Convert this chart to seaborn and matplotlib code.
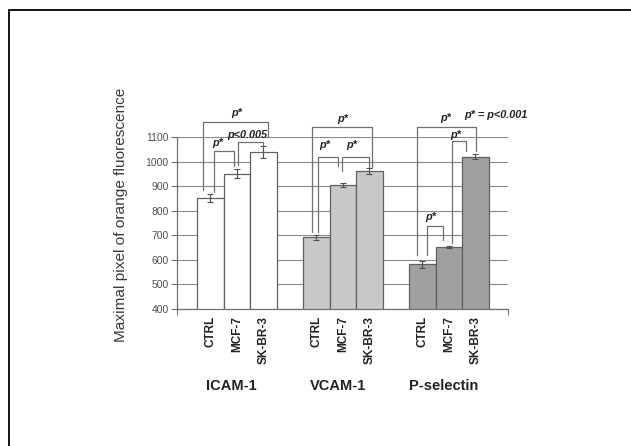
import numpy as np
import matplotlib
matplotlib.use('Agg')
import matplotlib.pyplot as plt
import matplotlib.transforms as mtransforms
from matplotlib.lines import Line2D
import pandas as pd
import seaborn as sns

molecules = ['ICAM-1', 'VCAM-1', 'P-selectin']
cells = ['CTRL', 'MCF-7', 'SK-BR-3']

icam_means = [853, 951, 1040]
icam_err = [17, 19, 24]
vcam_means = [692, 907, 963]
vcam_err = [10, 8, 11]
psel_means = [582, 652, 1020]
psel_err = [14, 6, 10]

bar_colors = ['#ffffff', '#c8c8c8', '#a0a0a0']

# significance brackets: x left, x right, top, left leg end, right leg end
brackets = [
    (-0.32, 0.29, 1163, 884, 1101),
    (-0.217, -0.028, 1045, 877, 982),
    (0.01, 0.25, 1080, 987, 1064),
    (0.712, 1.274, 1143, 714, 976),
    (0.761, 0.950, 1020, 714, 982),
    (0.988, 1.245, 1020, 963, 978),
    (1.698, 2.255, 1142, 619, 1044),
    (2.024, 2.160, 1084, 668, 1044),
    (1.792, 1.943, 739, 619, 680),
]
sig_labels = [
    (0.0, 1199, 'p*'),
    (-0.18, 1076, 'p*'),
    (0.10, 1109, 'p<0.005'),
    (1.0, 1175, 'p*'),
    (0.83, 1068, 'p*'),
    (1.08, 1068, 'p*'),
    (1.97, 1178, 'p*'),
    (2.06, 1109, 'p*'),
    (1.83, 774, 'p*'),
    (2.44, 1190, 'p* = p<0.001'),
]

means = [icam_means, vcam_means, psel_means]
errs = [icam_err, vcam_err, psel_err]
df = pd.DataFrame({
    'molecule': np.repeat(molecules, 3),
    'cell': cells * 3,
    'value': np.concatenate(means),
    'err': np.concatenate(errs),
})

sns.set_style('white')
plt.rcParams['font.family'] = ['Liberation Sans', 'DejaVu Sans']

fig = plt.figure(figsize=(6.31, 4.46), dpi=100)
ax = fig.add_axes([177 / 631, 1 - 308.7 / 446, 331 / 631, 171.4 / 446])

sns.barplot(data=df, x='molecule', y='value', hue='cell', order=molecules,
            hue_order=cells, width=0.75, errorbar=None, legend=False,
            edgecolor='#606060', linewidth=0.9, ax=ax, zorder=2)

centers = []
for i, cont in enumerate(ax.containers):
    for j, bar in enumerate(cont):
        bar.set_facecolor(bar_colors[j])
        xc = bar.get_x() + bar.get_width() / 2
        centers.append((xc, cells[i], means[j][i], errs[j][i]))

for xc, lab, m, e in centers:
    ax.errorbar(xc, m, yerr=e, fmt='none', ecolor='#505050', elinewidth=0.8,
                capsize=2.5, capthick=0.8, zorder=3)

ax.set_ylim(400, 1100)
ax.set_xlim(-0.566, 2.557)
ax.set_yticks(range(400, 1101, 100))
ax.yaxis.grid(True, color='#8a8a8a', lw=0.8)
ax.set_axisbelow(True)
sns.despine(ax=ax, top=True, right=True)
for s in ['left', 'bottom']:
    ax.spines[s].set_color('#707070')
    ax.spines[s].set_linewidth(0.9)

ax.tick_params(axis='y', length=4, width=0.8, color='#707070',
               labelsize=7.5, labelcolor='#505050', pad=2, left=True)

centers.sort()
ax.set_xticks([c[0] for c in centers])
ax.set_xticklabels([c[1] for c in centers], rotation=90, fontsize=8.5,
                   fontweight='bold', color='#222222')
ax.tick_params(axis='x', which='major', length=0, pad=5)
ax.set_xticks([-0.566, 2.557], minor=True)
ax.tick_params(axis='x', which='minor', length=4, width=0.8, color='#707070',
               bottom=True)

ax.set_xlabel('')
ax.set_ylabel('Maximal pixel of orange fluorescence', fontsize=11.1,
              color='#3a3a3a')
ax.yaxis.set_label_coords(-0.148, 0.55)

trans = mtransforms.blended_transform_factory(ax.transData, ax.transAxes)
for k, name in enumerate(molecules):
    ax.text(k - 0.05, -0.451, name, transform=trans, ha='center', va='center',
            fontsize=10.5, fontweight='bold', color='#222222')

for x1, x2, top, lb, rb in brackets:
    ax.plot([x1, x1, x2, x2], [lb, top, top, rb], color='#707070', lw=0.9,
            clip_on=False, zorder=4)
for x, y, t in sig_labels:
    ax.text(x, y, t, ha='center', va='center', fontsize=7.8,
            fontweight='bold', fontstyle='italic', color='#222222',
            clip_on=False, zorder=5)

fig.add_artist(Line2D([8.5 / 631, 1], [1 - 9.5 / 446, 1 - 9.5 / 446],
                      transform=fig.transFigure, color='black', lw=1.3))
fig.add_artist(Line2D([8.5 / 631, 8.5 / 631], [0, 1 - 9.5 / 446],
                      transform=fig.transFigure, color='black', lw=1.3))

fig.savefig('out.png', dpi=100)
